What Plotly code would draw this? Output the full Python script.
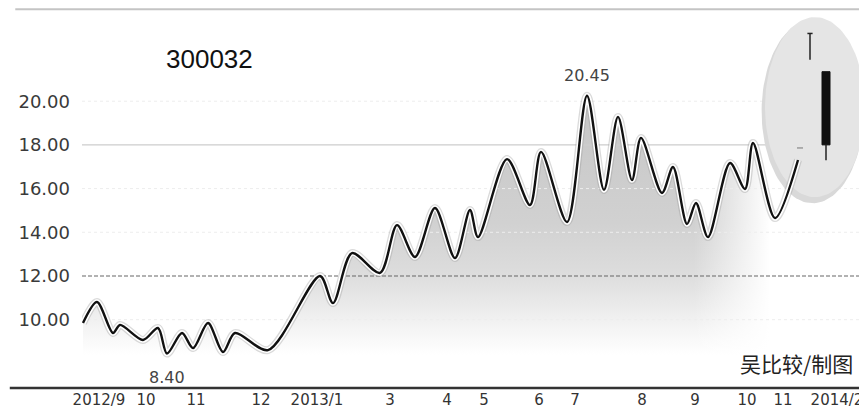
import numpy as np
import plotly.graph_objects as go

# ---------------- data ----------------
# x is a pseudo-time index (chart units), y is the share price
t_index = [0.5, 7.5, 15.5, 19, 30.5, 38, 42.5, 50, 55.5, 63, 70.5, 76.5, 93,
           119, 125.5, 135, 149, 157.5, 166.5, 176.5, 186.5, 194, 198, 212.5,
           224, 229.5, 242.5, 252.5, 261, 268, 275, 279.5, 290, 295.5, 302.5,
           307, 313, 324, 331.5, 335.5, 346.5, 358]
price = [9.85, 10.81, 9.39, 9.76, 9.07, 9.62, 8.45, 9.39, 8.70, 9.85, 8.52,
         9.39, 8.61, 12.0, 10.76, 13.05, 12.14, 14.33, 12.87, 15.11, 12.82,
         15.02, 13.78, 17.35, 15.25, 17.68, 14.47, 20.25, 15.94, 19.28, 16.39,
         18.32, 15.80, 16.99, 14.38, 15.34, 13.78, 17.17, 15.98, 18.09, 14.65,
         17.31]

month_pos = [8.5, 32, 57, 89.5, 117.5, 154, 182.5, 201, 228.5, 246.5, 280,
             306.5, 332.5, 350.5, 377.5]
month_labels = ["2012/9", "10", "11", "12", "2013/1", "3", "4", "5", "6", "7",
                "8", "9", "10", "11", "2014/2"]

y_ticks = [10, 12, 14, 16, 18, 20]
y_tick_labels = ["10.00", "12.00", "14.00", "16.00", "18.00", "20.00"]

high_label = "20.45"
low_label = "8.40"
high_idx = 27
low_idx = 6

# candle icon (price levels)
candle_x = [364, 372]
candle_high = 23.1
candle_upper_wick_low = 21.9
candle_body_top = 21.35
candle_body_bottom = 18.0
candle_low = 17.3

# ---------------- layout constants ----------------
# the page body has an 8px default margin, so the figure is sized to fit
X_MIN, X_MAX = 0, 392.5
Y_MIN, Y_MAX = 6.874, 24.265
FONT = "DejaVu Sans"
SMOOTH = 0.85

fig = go.Figure()

# gradient fill under the line
fig.add_trace(go.Scatter(
    x=t_index, y=price, mode="lines",
    line=dict(width=0, shape="spline", smoothing=SMOOTH),
    fill="tozeroy",
    fillgradient=dict(type="vertical", start=8.4, stop=20.5,
                      colorscale=[[0, "#ffffff"], [0.12, "#f2f2f2"],
                                  [0.3, "#dddddd"], [0.5, "#d1d1d1"],
                                  [1, "#c5c5c5"]]),
    hoverinfo="skip", showlegend=False))

# fade of the fill towards the right
fig.add_trace(go.Scatter(
    x=[300, X_MAX, X_MAX, 300], y=[Y_MIN, Y_MIN, 22, 22],
    mode="lines", line=dict(width=0), fill="toself",
    fillgradient=dict(type="horizontal", start=306, stop=344,
                      colorscale=[[0, "rgba(255,255,255,0)"],
                                  [1, "rgba(255,255,255,1)"]]),
    hoverinfo="skip", showlegend=False))

# grid lines
for v in [10, 14, 16, 20]:
    fig.add_trace(go.Scatter(x=[X_MIN, X_MAX], y=[v, v], mode="lines",
                             line=dict(color="#ededed", width=1, dash="dot"),
                             hoverinfo="skip", showlegend=False))
fig.add_trace(go.Scatter(x=[X_MIN, X_MAX], y=[18, 18], mode="lines",
                         line=dict(color="#cdcdcd", width=1.2),
                         hoverinfo="skip", showlegend=False))
fig.add_trace(go.Scatter(x=[X_MIN, X_MAX], y=[12, 12], mode="lines",
                         line=dict(color="#666666", width=1.2, dash="4px,2px"),
                         hoverinfo="skip", showlegend=False))

# ellipse behind the candle icon
th = np.linspace(0, 2 * np.pi, 120)
ecx, ecy, erx, ery = 366.5, 19.73, 25.0, 4.12
fig.add_trace(go.Scatter(x=ecx - 1.2 + (erx + 0.5) * np.cos(th),
                         y=ecy - 0.2 + (ery + 0.08) * np.sin(th),
                         mode="lines", line=dict(width=0), fill="toself",
                         fillcolor="#d9d9d9", hoverinfo="skip", showlegend=False))
fig.add_trace(go.Scatter(x=ecx + erx * np.cos(th), y=ecy + ery * np.sin(th),
                         mode="lines", line=dict(width=0), fill="toself",
                         fillcolor="#e5e5e5", hoverinfo="skip", showlegend=False))

# line: shadow + halo + black
fig.add_trace(go.Scatter(x=t_index, y=price, mode="lines",
                         line=dict(color="rgba(150,150,150,0.35)", width=8,
                                   shape="spline", smoothing=SMOOTH),
                         hoverinfo="skip", showlegend=False))
fig.add_trace(go.Scatter(x=t_index, y=price, mode="lines",
                         line=dict(color="#ffffff", width=5.5,
                                   shape="spline", smoothing=SMOOTH),
                         hoverinfo="skip", showlegend=False))
fig.add_trace(go.Scatter(x=t_index, y=price, mode="lines",
                         line=dict(color="#111111", width=2.4,
                                   shape="spline", smoothing=SMOOTH),
                         hoverinfo="skip", showlegend=False))

# candle icon
shapes = [
    dict(type="line", xref="x", yref="y", x0=candle_x[0], x1=candle_x[0],
         y0=candle_upper_wick_low, y1=candle_high, line=dict(color="#222", width=1.5)),
    dict(type="line", xref="x", yref="y", x0=candle_x[0] - 1.3, x1=candle_x[0] + 1.3,
         y0=candle_high, y1=candle_high, line=dict(color="#222", width=1.5)),
    dict(type="rect", xref="x", yref="y", x0=candle_x[1] - 2, x1=candle_x[1] + 2,
         y0=candle_body_bottom, y1=candle_body_top,
         fillcolor="#111", line=dict(color="#111", width=1)),
    dict(type="line", xref="x", yref="y", x0=candle_x[1], x1=candle_x[1],
         y0=candle_low, y1=candle_body_bottom, line=dict(color="#222", width=1.5)),
    dict(type="line", xref="x", yref="y", x0=357.5, x1=360.5,
         y0=17.86, y1=17.86, line=dict(color="#888", width=1.2)),
    # top rule and bottom axis rule
    dict(type="line", xref="paper", yref="paper", x0=-0.085, x1=1,
         y0=0.997, y1=0.997, line=dict(color="#c4c4c4", width=2)),
    dict(type="line", xref="paper", yref="paper", x0=-0.092, x1=1,
         y0=0, y1=0, line=dict(color="#333333", width=2.5)),
]

annotations = [
    dict(text="300032", xref="paper", yref="paper", x=0.1618, y=0.866,
         xanchor="center", yanchor="middle", showarrow=False,
         font=dict(family="Liberation Sans", size=26, color="#111")),
    dict(text=high_label, x=t_index[high_idx], y=price[high_idx], xref="x", yref="y",
         xanchor="center", yanchor="bottom", yshift=9, showarrow=False,
         font=dict(family=FONT, size=16, color="#444")),
    dict(text=low_label, x=t_index[low_idx], y=price[low_idx], xref="x", yref="y",
         xanchor="center", yanchor="top", yshift=-12, showarrow=False,
         font=dict(family=FONT, size=16, color="#444")),
    dict(text="吴比较/制图", xref="paper", yref="paper", x=0.985, y=0.066,
         xanchor="right", yanchor="middle", showarrow=False,
         font=dict(family="Noto Sans CJK SC", size=21, color="#222")),
]

fig.update_layout(
    width=859, height=403,
    margin=dict(l=74, r=0, t=0, b=23, autoexpand=False),
    paper_bgcolor="white", plot_bgcolor="white",
    shapes=shapes, annotations=annotations, showlegend=False,
    xaxis=dict(range=[X_MIN, X_MAX], tickvals=month_pos, ticktext=month_labels,
               showgrid=False, zeroline=False, showline=False, ticks="",
               ticklabelstandoff=1, automargin=False,
               tickfont=dict(family=FONT, size=15, color="#333")),
    yaxis=dict(range=[Y_MIN, Y_MAX], tickvals=y_ticks, ticktext=y_tick_labels,
               showgrid=False, zeroline=False, showline=False, ticks="",
               ticklabelstandoff=11, automargin=False,
               tickfont=dict(family=FONT, size=18, color="#3a3a3a")),
)

fig.write_html("out.html")
